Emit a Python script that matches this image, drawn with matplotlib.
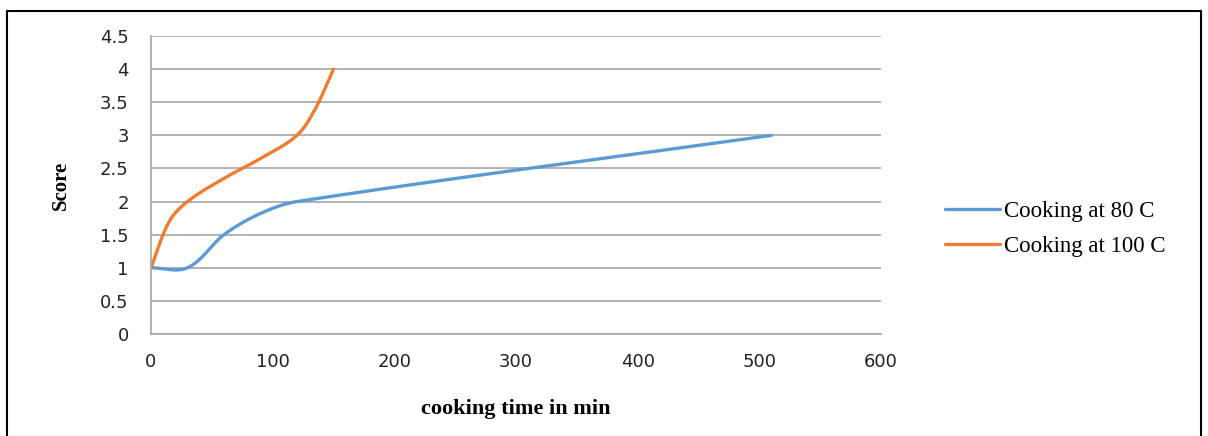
import numpy as np
import matplotlib.pyplot as plt
from matplotlib.patches import Rectangle

# Score vs cooking time (min)
time80 = [0, 30, 60, 90, 120, 510]
score80 = [1, 1, 1.5, 1.82, 2, 3]
time100 = [0, 15, 30, 60, 90, 120, 135, 150]
score100 = [1, 1.7, 2, 2.35, 2.65, 3, 3.4, 4]

labels = ['Cooking at 80 C', 'Cooking at 100 C']
colors = ['#5B9BD5', '#ED7D31']

# echelle approx. des axes en pixels, pour lisser dans un repere isotrope
SX = 730 / 600
SY = 298 / 4.5


def smooth(x, y, n=40):
    """Courbe lissee par segments de bezier passant par les points"""
    p = np.column_stack([np.asarray(x, float) * SX, np.asarray(y, float) * SY])
    m = len(p)
    tang = np.zeros_like(p)
    for i in range(m):
        a = p[max(i - 1, 0)]
        b = p[min(i + 1, m - 1)]
        d = b - a
        tang[i] = d / np.hypot(*d)
    t = np.linspace(0, 1, n)[:, None]
    pts = []
    for i in range(m - 1):
        p0, p3 = p[i], p[i + 1]
        L = np.hypot(*(p3 - p0)) / 3
        p1 = p0 + tang[i] * L
        p2 = p3 - tang[i + 1] * L
        b = ((1 - t) ** 3 * p0 + 3 * (1 - t) ** 2 * t * p1
             + 3 * (1 - t) * t ** 2 * p2 + t ** 3 * p3)
        pts.append(b)
    pts = np.vstack(pts)
    return pts[:, 0] / SX, pts[:, 1] / SY


fig = plt.figure(figsize=(12.08, 4.36), dpi=100)
ax = fig.add_axes([0.125, 0.234, 0.6043, 0.6834])

for tx, sy, lab, col in [(time80, score80, labels[0], colors[0]),
                         (time100, score100, labels[1], colors[1])]:
    xs, ys = smooth(tx, sy)
    ax.plot(xs, ys, color=col, lw=2.4, label=lab, solid_capstyle='round')

ax.set_xlim(0, 600)
ax.set_ylim(0, 4.5)
ax.set_xticks(np.arange(0, 601, 100))
ax.set_yticks(np.arange(0, 4.51, 0.5))
ax.set_yticklabels(['0', '0.5', '1', '1.5', '2', '2.5', '3', '3.5', '4', '4.5'])
ax.yaxis.grid(True, color='#A6A6A6', lw=1.2)
ax.set_axisbelow(True)
for s in ['top', 'right']:
    ax.spines[s].set_visible(False)
for s in ['left', 'bottom']:
    ax.spines[s].set_color('#A6A6A6')
    ax.spines[s].set_linewidth(1.2)
ax.tick_params(axis='both', length=0, labelsize=13, colors='#222222')
ax.tick_params(axis='y', pad=16)
ax.tick_params(axis='x', pad=14)

ax.set_xlabel('cooking time in min', fontfamily='Liberation Serif',
              fontweight='bold', fontsize=16, labelpad=20)
ax.set_ylabel('Score', fontfamily='Liberation Serif', fontweight='bold',
              fontsize=15, labelpad=21)

ax.legend(loc='center left', bbox_to_anchor=(0.765, 0.475), bbox_transform=fig.transFigure,
          frameon=False, prop={'family': 'Liberation Serif', 'size': 16.5},
          handlelength=2.4, handletextpad=0.2, labelspacing=0.6)

fig.patches.append(Rectangle((7 / 1208, -0.01), 1194 / 1208, 1 - 11 / 436 + 0.01,
                             transform=fig.transFigure, fill=False,
                             edgecolor='black', lw=1.5))

fig.savefig('out.png', dpi=100)
